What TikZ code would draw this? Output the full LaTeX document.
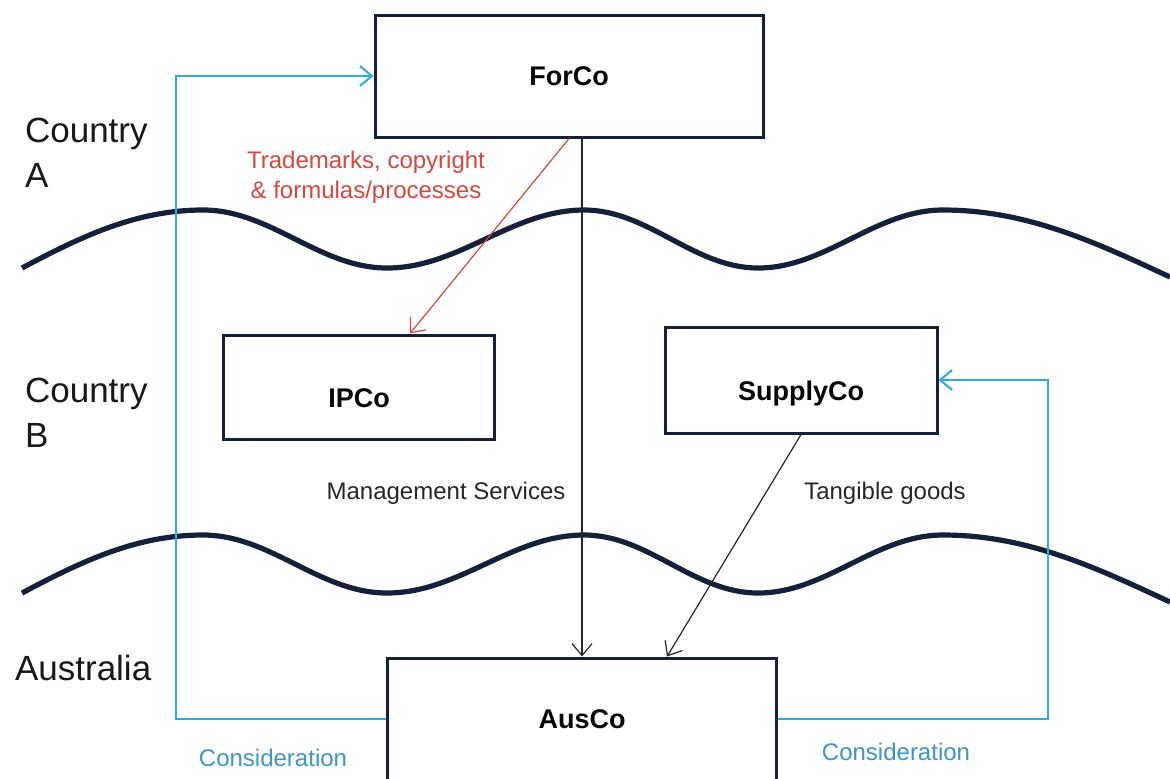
\documentclass[tikz,border=0pt]{standalone}
\usepackage{fontspec}
\setmainfont{Liberation Sans}
\usetikzlibrary{arrows.meta,calc}
\definecolor{navy}{RGB}{22,32,58}
\definecolor{consblue}{RGB}{45,172,222}
\definecolor{constext}{RGB}{60,150,200}
\definecolor{iprred}{RGB}{212,72,62}
\tikzset{
  entity/.style={draw=navy, line width=1.5pt, inner sep=0pt, text=black!80!navy,
    font=\fontsize{13.5}{16}\selectfont\bfseries},
  lowered/.style={text height=20pt, text depth=0pt},
  region/.style={anchor=west, align=left, text=black!90, font=\fontsize{17.5}{22.5}\selectfont},
  flowlabel/.style={align=center, text=black!85, font=\fontsize{12}{15}\selectfont},
  flow/.style={-{Straight Barb[length=6pt,width=10pt]}, line width=0.6pt, black!85},
  consid/.style={-{Straight Barb[length=6pt,width=10pt]}, line width=1pt, consblue},
  border/.style={navy, line width=2.6pt, looseness=0.9},
}
\begin{document}
\begin{tikzpicture}[x=0.5pt,y=-0.5pt]
\useasboundingbox (0,0) rectangle (1170,778);
% borders between the countries
\foreach \dy in {0,325}
  \draw[border] (22,268+\dy) to[out=28,in=180] (203,210+\dy) to[out=0,in=180] (387,268+\dy)
    to[out=0,in=180] (584,210+\dy) to[out=0,in=180] (758,268+\dy)
    to[out=0,in=180] (943,210+\dy) to[out=0,in=155] (1170,277+\dy);
% entities
\node[entity, minimum width=194pt, minimum height=61pt] (ForCo) at (569,76) {ForCo};
\node[entity, lowered, minimum width=135.5pt, minimum height=52pt] (IPCo) at (359,387) {IPCo};
\node[entity, lowered, minimum width=136pt, minimum height=53pt] (SupplyCo) at (801,380) {SupplyCo};
\node[entity, minimum width=194.5pt, minimum height=61pt] (AusCo) at (582,719) {AusCo};
% regions
\node[region] (countryA) at (18,153) {Country\\A};
\node[region] (countryB) at (18,413) {Country\\B};
\node[region] (australia) at (8,668) {Australia};
% flows
\draw[flow, iprred] (ForCo.south) -- ($(IPCo.north)+(51,0)$);
\draw[flow] (ForCo.south -| AusCo.north) -- (AusCo.north);
\draw[flow] (SupplyCo.south) -- ($(AusCo.north)+(85,0)$);
\draw[consid] (AusCo.west) -- ++(-210,0) |- (ForCo.west);
\draw[consid] (AusCo.east) -- ++(270,0) |- (SupplyCo.east);
% labels
\node[flowlabel, text=iprred] (iplabel) at (366,177) {Trademarks, copyright\\\& formulas/processes};
\node[flowlabel] (mslabel) at (446,493) {Management Services};
\node[flowlabel] (tglabel) at (885,493) {Tangible goods};
\node[flowlabel, text=constext] (conslabelL) at (273,758) {Consideration};
\node[flowlabel, text=constext] (conslabelR) at (896,752) {Consideration};
\end{tikzpicture}
\end{document}
